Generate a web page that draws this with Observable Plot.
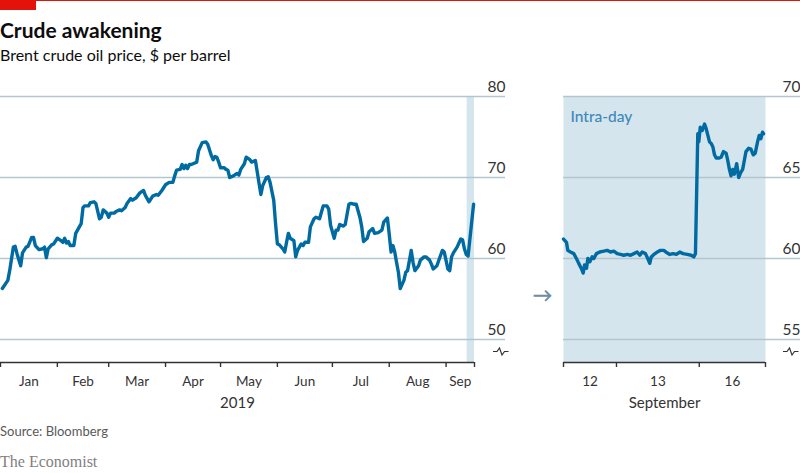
<!DOCTYPE html>
<html><head><meta charset="utf-8">
<script src="https://cdn.jsdelivr.net/npm/d3@7"></script>
<script src="https://cdn.jsdelivr.net/npm/@observablehq/plot@0.6"></script>
<style>
body{margin:0;background:#fff;font-family:Lato,"Noto Sans",sans-serif;}
#wrap{position:relative;width:800px;height:473px;overflow:hidden;}
.redline{position:absolute;left:0;top:0;width:800px;height:1px;background:#e3120b}
.redbox{position:absolute;left:0;top:0;width:36px;height:10px;background:#e3120b}
.title{position:absolute;left:0;top:18px;font-weight:700;font-size:21px;color:#0d0d0d;line-height:24px}
.subtitle{position:absolute;left:0;top:44px;font-size:16px;color:#0d0d0d;line-height:22px}
#left{position:absolute;left:0;top:72px}
#right{position:absolute;left:510px;top:72px}
.source{position:absolute;left:0;top:423px;font-size:13px;color:#595959;line-height:16px}
.brand{position:absolute;left:0;top:453px;font-family:"Liberation Serif",serif;font-size:16px;color:#7f7f7f;line-height:18px}
</style>
</head><body>
<div id="wrap">
<div class="redline"></div><div class="redbox"></div>
<div class="title">Crude awakening</div>
<div class="subtitle">Brent crude oil price, $ per barrel</div>
<div id="left"></div>
<div id="right"></div>
<div class="source">Source: Bloomberg</div>
<div class="brand">The Economist</div>
</div>
<script>
// ---- Data ----
const dailyDates = [
"2019-01-02","2019-01-05","2019-01-06","2019-01-08","2019-01-09","2019-01-10","2019-01-12","2019-01-13","2019-01-15","2019-01-16",
"2019-01-18","2019-01-19","2019-01-20","2019-01-22","2019-01-24","2019-01-25","2019-01-26","2019-01-27","2019-01-29","2019-01-30",
"2019-02-01","2019-02-03","2019-02-04","2019-02-05","2019-02-06","2019-02-07","2019-02-08","2019-02-10","2019-02-11","2019-02-14",
"2019-02-15","2019-02-16","2019-02-18","2019-02-19","2019-02-21","2019-02-22","2019-02-24","2019-02-25","2019-02-26","2019-02-28",
"2019-03-01","2019-03-02","2019-03-04","2019-03-05","2019-03-07","2019-03-08","2019-03-10","2019-03-11","2019-03-13","2019-03-14",
"2019-03-16","2019-03-18","2019-03-20","2019-03-21","2019-03-23","2019-03-25","2019-03-27","2019-03-28","2019-03-30",
"2019-04-01","2019-04-03","2019-04-05","2019-04-06","2019-04-07","2019-04-09","2019-04-10","2019-04-11","2019-04-12","2019-04-13",
"2019-04-14","2019-04-15","2019-04-16","2019-04-18","2019-04-19","2019-04-21","2019-04-23","2019-04-24","2019-04-26","2019-04-27",
"2019-04-28","2019-04-29","2019-04-30",
"2019-05-01","2019-05-03","2019-05-04","2019-05-05","2019-05-06","2019-05-07","2019-05-08","2019-05-10","2019-05-11","2019-05-12",
"2019-05-14","2019-05-15","2019-05-17","2019-05-18","2019-05-20","2019-05-21","2019-05-22","2019-05-23","2019-05-24","2019-05-26",
"2019-05-27","2019-05-28","2019-05-30","2019-05-31",
"2019-06-01","2019-06-02","2019-06-04","2019-06-05","2019-06-06","2019-06-07","2019-06-08","2019-06-10","2019-06-11","2019-06-12",
"2019-06-14","2019-06-15","2019-06-16","2019-06-18","2019-06-19","2019-06-21","2019-06-22","2019-06-24","2019-06-25","2019-06-26",
"2019-06-28","2019-06-29","2019-06-30",
"2019-07-02","2019-07-03","2019-07-04","2019-07-05","2019-07-07","2019-07-08","2019-07-10","2019-07-11","2019-07-13","2019-07-14",
"2019-07-16","2019-07-17","2019-07-18","2019-07-20","2019-07-21","2019-07-23","2019-07-24","2019-07-26","2019-07-28","2019-07-29",
"2019-07-31",
"2019-08-01","2019-08-02","2019-08-03","2019-08-04","2019-08-05","2019-08-06","2019-08-07","2019-08-09","2019-08-10","2019-08-11",
"2019-08-13","2019-08-14","2019-08-15","2019-08-17","2019-08-18","2019-08-20","2019-08-21","2019-08-23","2019-08-24","2019-08-25",
"2019-08-27","2019-08-29","2019-08-30","2019-08-31",
"2019-09-02","2019-09-03","2019-09-04","2019-09-05","2019-09-07","2019-09-09","2019-09-10","2019-09-11","2019-09-12","2019-09-13",
"2019-09-16"];
const dailyPrices = [
56.3,57.3,58.5,61.4,61.5,60.6,59.1,60.7,61.4,61.5,
62.6,62.6,61.6,61.1,61.2,61.4,60.1,61.2,61.7,61.8,
62.5,62.2,62.0,62.5,61.9,62.1,61.6,61.6,63.1,64.3,
66.3,66.5,66.5,66.9,67.0,66.8,64.9,65.1,66.0,65.6,
65.1,65.6,65.6,65.8,66.0,65.9,66.3,66.8,67.4,67.2,
67.5,68.1,68.4,67.8,67.0,67.7,67.9,67.8,68.4,
69.1,69.4,69.4,70.2,70.9,71.0,71.6,71.1,71.5,71.1,
71.6,71.6,71.7,71.9,73.3,74.3,74.4,74.1,72.7,72.2,
72.6,72.5,71.9,
71.2,71.2,71.0,70.9,70.0,70.1,70.2,70.5,70.3,71.0,
71.7,72.5,72.2,71.9,72.1,70.7,69.3,67.9,69.0,70.0,
70.1,69.4,67.2,64.3,
61.8,61.7,61.2,60.8,62.0,63.1,62.5,62.2,60.2,61.0,
61.8,61.6,62.0,62.0,63.9,64.9,65.1,64.9,65.7,66.5,
66.5,66.1,64.1,
62.5,63.5,63.5,64.2,64.0,64.2,66.7,66.8,66.7,66.7,
65.1,63.9,62.1,62.5,63.3,63.7,63.1,63.2,63.5,64.5,
65.0,
63.0,60.8,61.6,60.8,59.5,58.3,56.3,57.3,58.3,58.5,
61.0,59.5,58.5,59.1,59.8,60.2,60.2,59.8,59.3,58.7,
59.1,60.4,61.0,60.8,
58.7,58.5,60.2,60.7,61.4,62.4,62.3,61.2,60.5,60.3,
66.7];

const monthLabels = ["Jan","Feb","Mar","Apr","May","Jun","Jul","Aug","Sep"];
const yearLabel = "2019";
const leftTicks = [80, 70, 60, 50];
const leftDomain = [47.16, 80];
const periodStart = "2019-01-01";
const periodEnd = "2019-09-16T12:00Z";
const highlightStart = "2019-09-12T12:00Z";

// intra-day: time in trading-hour units from start of Sep 12 session
const intradayTime = [
0,0.9,1.3,2.1,3.1,3.9,4.6,5.35,5.95,6.35,6.95,7.35,7.95,8.65,9.15,9.95,10.95,12.15,13.2,14.2,15.2,
16.2,17.2,18.2,19.25,20.25,21.25,22.25,23.05,23.75,24.75,25.45,26.05,26.5,27.3,28.3,29.3,30.3,31.25,32.1,33.1,34.1,35.1,36.1,37.35,38.55,39.35,39.85,
40.55,40.85,41.3,41.9,42.6,43.1,43.6,44.1,44.6,45.1,45.6,46.1,46.9,47.6,48.3,49.1,49.6,50.1,50.6,51.1,51.6,52.3,52.9,53.5,54.1,54.6,55.1,55.9,56.6,57.3,57.9,58.6,59.1,59.6,60.1,60.4];
const intradayPrices = [
61.2,61.0,60.5,60.4,60.3,60.0,59.7,59.4,59.1,59.6,59.4,60.0,59.8,60.1,60.0,60.3,60.4,60.45,60.5,60.4,60.45,
60.3,60.25,60.2,60.25,60.2,60.3,60.4,60.2,60.4,60.3,60.0,59.7,60.1,60.25,60.4,60.5,60.5,60.35,60.25,60.3,60.25,60.4,60.3,60.25,60.2,60.1,60.3,
67.7,67.2,68.1,67.9,68.3,68.0,67.6,67.2,67.1,66.9,66.4,66.2,66.2,66.25,66.6,66.5,66.05,65.5,65.1,65.5,65.2,65.85,65.0,65.3,65.5,66.05,66.6,66.8,66.75,66.4,66.5,67.2,67.6,67.4,67.8,67.7];
const dayBoundaries = [0, 16, 41, 61];
const dayLabels = ["12", "13", "16"];
const monthLabel = "September";
const rightTicks = [70, 65, 60, 55];
const rightDomain = [53.58, 70];
const intradayNote = "Intra-day";

// ---- Styles ----
const BLUE = "#006ba2", BAND = "#d5e5ee", GRID = "#b4c5d0", INK = "#333333";
const font = {fontFamily: "Lato, 'Noto Sans', sans-serif", fontSize: "14px", color: INK, background: "transparent", overflow: "visible"};

function breakMark(lowTick) {
  return (index, scales, values, dim) => {
    const yb = dim.height - dim.marginBottom;
    const y = (scales.y(lowTick) + yb) / 2 + 1;
    const x0 = dim.width - 17;
    return d3.create("svg:path")
      .attr("d", `M${x0},${y}h4l2.5,-3.5l2.5,7l2.5,-3.5h4`)
      .attr("fill", "none").attr("stroke", INK).attr("stroke-width", 1.2).node();
  };
}

// ---- Left panel ----
const daily = dailyDates.map((d, i) => ({date: new Date(d + "T00:00Z"), price: dailyPrices[i]}));
const xStart = new Date(periodStart + "T00:00Z"), xEnd = new Date(periodEnd);
const monthStarts = [xStart].concat(d3.utcMonths(d3.utcDay.offset(xStart, 1), xEnd));
const tickDates = monthStarts.concat([xEnd]);
const midDates = monthStarts.map((d, i) => new Date((+d + +(tickDates[i + 1])) / 2));

const left = Plot.plot({
  width: 510, height: 340,
  marginLeft: 0, marginRight: 36, marginTop: 24, marginBottom: 50,
  style: font,
  x: {type: "utc", domain: [xStart, xEnd]},
  y: {domain: leftDomain},
  marks: [
    Plot.rect([{a: new Date(highlightStart), b: xEnd}], {x1: "a", x2: "b", fill: BAND}),
    Plot.ruleY(leftTicks, {stroke: GRID, strokeWidth: 1.3, insetRight: -31}),
    Plot.line(daily, {x: "date", y: "price", stroke: BLUE, strokeWidth: 3.4, strokeLinejoin: "round", strokeLinecap: "round"}),
    Plot.ruleY([leftDomain[0]], {stroke: INK, strokeWidth: 1.4}),
    Plot.axisX({ticks: tickDates, tickSize: 5, tickFormat: () => "", stroke: INK, strokeWidth: 1.4, label: null}),
    Plot.axisX({ticks: midDates, tickSize: 0, tickPadding: 14, tickFormat: d => monthLabels[d.getUTCMonth()], fontSize: 13.5, fill: INK, label: null}),
    Plot.axisY({ticks: leftTicks, anchor: "right", tickSize: 0, tickPadding: 31, textAnchor: "end", dy: -9, fontSize: 15.5, fill: INK, label: null}),
    Plot.text([yearLabel], {frameAnchor: "bottom", dy: 45, fontSize: 15, fill: INK}),
    breakMark(leftTicks[leftTicks.length - 1])
  ]
});
document.getElementById("left").appendChild(left);

// ---- Right panel ----
const intraday = intradayTime.map((t, i) => ({t, price: intradayPrices[i]}));
const dayMids = dayLabels.map((_, i) => (dayBoundaries[i] + dayBoundaries[i + 1]) / 2);

const right = Plot.plot({
  width: 290, height: 340,
  marginLeft: 53, marginRight: 35, marginTop: 24, marginBottom: 50,
  style: font,
  x: {type: "linear", domain: [dayBoundaries[0], dayBoundaries[dayBoundaries.length - 1]]},
  y: {domain: rightDomain},
  marks: [
    Plot.frame({fill: BAND, stroke: null}),
    Plot.ruleY(rightTicks, {stroke: GRID, strokeWidth: 1.3, insetRight: -35}),
    Plot.line(intraday, {x: "t", y: "price", stroke: BLUE, strokeWidth: 3.4, strokeLinejoin: "round", strokeLinecap: "round"}),
    Plot.ruleY([rightDomain[0]], {stroke: INK, strokeWidth: 1.4}),
    Plot.axisX({ticks: dayBoundaries, tickSize: 5, tickFormat: () => "", stroke: INK, strokeWidth: 1.4, label: null}),
    Plot.axisX({ticks: dayMids, tickSize: 0, tickPadding: 14, tickFormat: (d) => dayLabels[dayMids.indexOf(d)], fontSize: 13.5, fill: INK, label: null}),
    Plot.axisY({ticks: rightTicks, anchor: "right", tickSize: 0, tickPadding: 35, textAnchor: "end", dy: -9, fontSize: 15.5, fill: INK, label: null}),
    Plot.text([intradayNote], {frameAnchor: "top-left", dx: 7, dy: 14, fontSize: 15.5, fill: "#3f88b8", fontWeight: 500, textAnchor: "start"}),
    Plot.text(["→"], {frameAnchor: "left", dx: -31, dy: 66, fontSize: 20, fontWeight: "bold", fill: "#6d8ea3"}),
    Plot.text([monthLabel], {frameAnchor: "bottom", dy: 45, fontSize: 15, fill: INK}),
    breakMark(rightTicks[rightTicks.length - 1])
  ]
});
document.getElementById("right").appendChild(right);
</script>
</body></html>
